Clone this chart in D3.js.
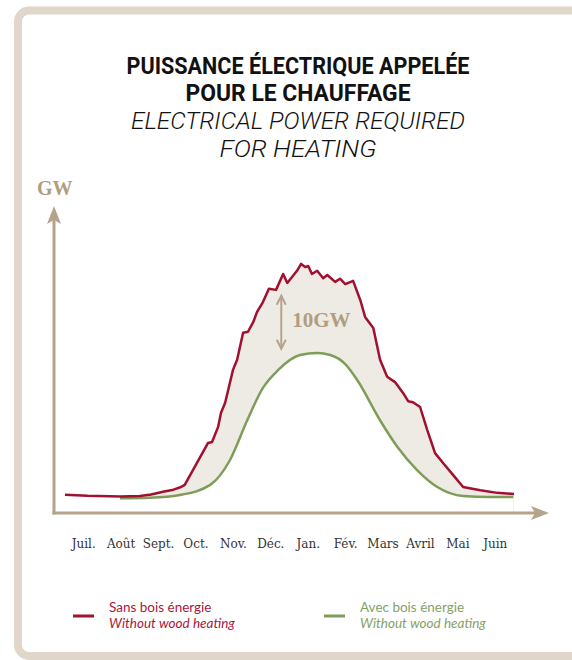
<!DOCTYPE html>
<html>
<head>
<meta charset="utf-8">
<script src="https://cdn.jsdelivr.net/npm/d3@7"></script>
<style>
  body { margin: 0; background: #fff; }
  svg { display: block; }
</style>
</head>
<body>
<svg id="chart" width="572" height="660"></svg>
<script>
// month labels (July -> June)
const months = ["Juil.", "Août", "Sept.", "Oct.", "Nov.", "Déc.", "Jan.", "Fév.", "Mars", "Avril", "Mai", "Juin"];

// without wood heating (red): time in months since 1 July, power in GW
const noWoodT  = [0, 0.6, 1.47, 2.0, 2.3, 2.62, 2.9, 3.1, 3.2, 3.82, 3.93, 4.09, 4.17, 4.28, 4.49, 4.6, 4.76, 4.89, 5.03, 5.13, 5.29, 5.45, 5.64, 5.83, 5.94, 6.2, 6.31, 6.42, 6.5, 6.6, 6.74, 6.9, 7.01, 7.22, 7.35, 7.49, 7.7, 7.9, 8.02, 8.24, 8.42, 8.61, 8.82, 9.04, 9.17, 9.3, 9.49, 9.68, 9.89, 10.11, 10.37, 10.64, 11.1, 11.55, 12];
const noWoodGW = [3.45, 3.25, 3.1, 3.2, 3.5, 4.0, 4.4, 4.9, 5.3, 13.2, 13.4, 16.2, 18.9, 20.8, 27.0, 28.9, 34.0, 34.2, 36.0, 37.9, 39.8, 42.3, 42.1, 45.1, 43.4, 45.7, 47.0, 46.4, 46.6, 45.1, 45.7, 44.3, 44.9, 43.6, 44.2, 43.2, 43.8, 40.0, 37.0, 34.9, 28.9, 25.7, 24.7, 22.6, 21.1, 20.9, 20.0, 15.7, 11.3, 9.4, 7.2, 4.9, 4.3, 3.8, 3.6];

// with wood heating (green)
const woodT  = [1.47, 2.27, 3.07, 3.88, 4.41, 4.87, 5.29, 5.7, 6.28, 6.74, 7.09, 7.49, 7.81, 8.42, 8.88, 9.41, 9.95, 10.64, 11.36, 11.98];
const woodGW = [2.8, 2.9, 3.4, 5.3, 10.0, 17.5, 23.6, 27.0, 29.8, 30.2, 29.8, 28.1, 25.1, 17.5, 12.5, 8.1, 4.9, 3.2, 3.0, 3.0];

const titleFr = ["PUISSANCE ÉLECTRIQUE APPELÉE", "POUR LE CHAUFFAGE"];
const titleEn = ["ELECTRICAL POWER REQUIRED", "FOR HEATING"];

const tan = "#b5a48b";
const red = "#a1102e";
const green = "#7e9d58";

const svg = d3.select("#chart");

// frame
svg.append("rect")
  .attr("x", 18).attr("y", 10.5)
  .attr("width", 620).attr("height", 645.5)
  .attr("rx", 11)
  .attr("fill", "none")
  .attr("stroke", "#e0d6c9")
  .attr("stroke-width", 8);

// title
const titleW = [343, 225, 334, 157];
const titleY = [74, 101, 129, 157];
titleFr.concat(titleEn).forEach((t, i) => {
  svg.append("text")
    .attr("x", 298).attr("y", titleY[i])
    .attr("text-anchor", "middle")
    .attr("textLength", titleW[i])
    .attr("lengthAdjust", "spacingAndGlyphs")
    .style("font-family", "Roboto, 'Liberation Sans', sans-serif")
    .style("font-size", "23px")
    .style("font-weight", i < 2 ? 700 : 300)
    .style("font-style", i < 2 ? "normal" : "italic")
    .attr("fill", "#111")
    .text(t);
});

// scales
const x = d3.scaleLinear().domain([0, 12]).range([65, 514]);
const y = d3.scaleLinear().domain([0, 58]).range([513, 205.6]);
const xBand = d3.scaleBand().domain(months).range([65, 514]);

const red_pts = noWoodT.map((t, i) => [t, noWoodGW[i]]);
const green_pts = woodT.map((t, i) => [t, woodGW[i]]);

// shaded gap between the two curves
svg.append("clipPath").attr("id", "gap")
  .append("rect")
  .attr("x", x(woodT[0])).attr("y", 0)
  .attr("width", x(12) - x(woodT[0])).attr("height", 660);

const gap = svg.append("g").attr("clip-path", "url(#gap)");
gap.append("path")
  .datum(red_pts)
  .attr("fill", "#eeebe4")
  .attr("d", d3.area().x(d => x(d[0])).y0(y(0)).y1(d => y(d[1])));
gap.append("path")
  .datum(green_pts)
  .attr("fill", "#fff")
  .attr("d", d3.area().curve(d3.curveMonotoneX).x(d => x(d[0])).y0(y(0)).y1(d => y(d[1])));

// lines
svg.append("path")
  .datum(green_pts)
  .attr("fill", "none")
  .attr("stroke", green)
  .attr("stroke-width", 2.5)
  .attr("d", d3.line().curve(d3.curveMonotoneX).x(d => x(d[0])).y(d => y(d[1])));

svg.append("path")
  .datum(red_pts)
  .attr("fill", "none")
  .attr("stroke", red)
  .attr("stroke-width", 2.5)
  .attr("stroke-linejoin", "round")
  .attr("d", d3.line().x(d => x(d[0])).y(d => y(d[1])));

// axes with arrows
const ax = 54, ay = y(0);
svg.append("line")
  .attr("x1", ax).attr("y1", ay + 1.5).attr("x2", ax).attr("y2", 218)
  .attr("stroke", tan).attr("stroke-width", 3);
svg.append("path")
  .attr("d", `M${ax},206 L${ax + 7},224 L${ax},220 L${ax - 7},224 Z`)
  .attr("fill", tan);
svg.append("line")
  .attr("x1", ax - 1.5).attr("y1", ay).attr("x2", 536).attr("y2", ay)
  .attr("stroke", tan).attr("stroke-width", 3);
svg.append("path")
  .attr("d", `M549,${ay} L531,${ay - 7} L535,${ay} L531,${ay + 7} Z`)
  .attr("fill", tan);

svg.append("text")
  .attr("x", 37).attr("y", 195)
  .style("font-family", "'Liberation Serif', serif")
  .style("font-weight", 700)
  .style("font-size", "20px")
  .attr("fill", "#b09d82")
  .text("GW");

// month labels
const xAxis = svg.append("g")
  .attr("transform", `translate(0, ${ay})`)
  .call(d3.axisBottom(xBand).tickSize(0).tickPadding(26));
xAxis.select(".domain").remove();
xAxis.selectAll("text")
  .style("font-family", "'DejaVu Serif', serif")
  .style("font-size", "12px")
  .attr("fill", "#333");

// 10 GW annotation
const annX = x(5.78);
svg.append("line")
  .attr("x1", annX).attr("x2", annX)
  .attr("y1", y(41)).attr("y2", y(31))
  .attr("stroke", tan).attr("stroke-width", 2);
svg.append("path")
  .attr("d", `M${annX - 4.5},${y(41) + 9} L${annX},${y(41)} L${annX + 4.5},${y(41) + 9}`
    + ` M${annX - 4.5},${y(31) - 9} L${annX},${y(31)} L${annX + 4.5},${y(31) - 9}`)
  .attr("fill", "none").attr("stroke", tan).attr("stroke-width", 2);
svg.append("text")
  .attr("x", annX + 11).attr("y", y(35.1))
  .style("font-family", "'Liberation Serif', serif")
  .style("font-weight", 700)
  .style("font-size", "21px")
  .attr("fill", "#b09d82")
  .text("10GW");

// legend
const legend = [
  { fr: "Sans bois énergie", en: "Without wood heating", color: red, lx: 73, tx: 109, tc: "#a8183c" },
  { fr: "Avec bois énergie", en: "Without wood heating", color: green, lx: 324, tx: 360, tc: "#86a163" }
];
legend.forEach(l => {
  svg.append("line")
    .attr("x1", l.lx).attr("x2", l.lx + 21)
    .attr("y1", 616).attr("y2", 616)
    .attr("stroke", l.color).attr("stroke-width", 3);
  svg.append("text")
    .attr("x", l.tx).attr("y", 612)
    .style("font-family", "Lato, sans-serif")
    .style("font-size", "13.5px")
    .attr("fill", l.tc)
    .text(l.fr);
  svg.append("text")
    .attr("x", l.tx).attr("y", 628)
    .style("font-family", "Lato, sans-serif")
    .style("font-style", "italic")
    .style("font-size", "13.5px")
    .attr("fill", l.tc)
    .text(l.en);
});
</script>
</body>
</html>
